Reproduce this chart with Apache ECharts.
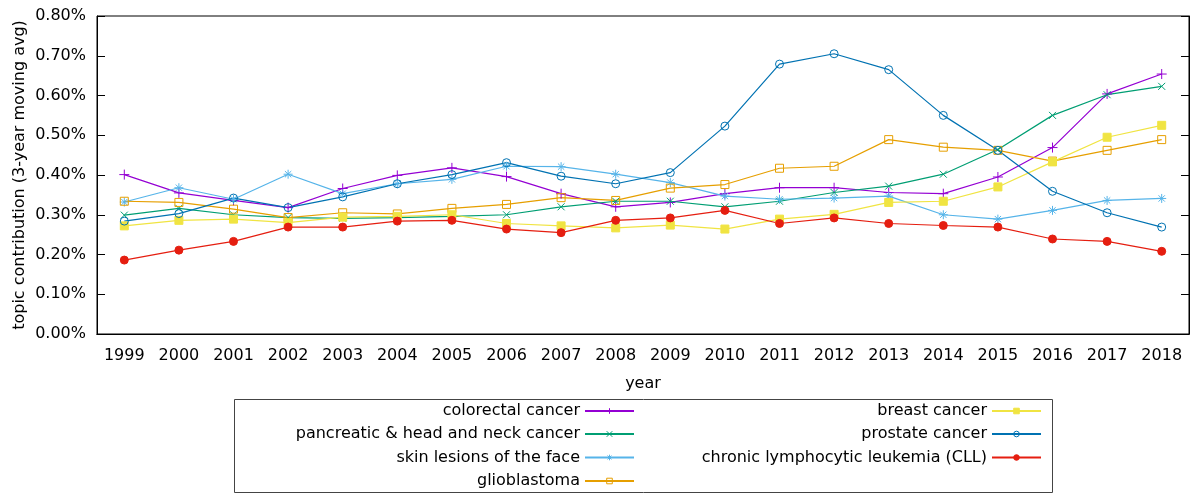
<!DOCTYPE html>
<html>
<head>
<meta charset="utf-8">
<script src="https://cdn.jsdelivr.net/npm/echarts@6/dist/echarts.min.js"></script>
<style>
  html, body { margin: 0; padding: 0; background: #fff; }
  #chart { width: 1193px; height: 493px; }
</style>
</head>
<body>
<div id="chart"></div>
<script>
const years = ["1999", "2000", "2001", "2002", "2003", "2004", "2005", "2006", "2007", "2008",
  "2009", "2010", "2011", "2012", "2013", "2014", "2015", "2016", "2017", "2018"];
const yTicks = [0, 0.1, 0.2, 0.3, 0.4, 0.5, 0.6, 0.7, 0.8];

// values in percent
const colorectal = [0.401, 0.355, 0.336, 0.318, 0.366, 0.399, 0.418, 0.396, 0.353, 0.320,
  0.331, 0.353, 0.368, 0.368, 0.356, 0.353, 0.395, 0.469, 0.604, 0.654];
const pancreatic = [0.299, 0.316, 0.300, 0.293, 0.291, 0.293, 0.296, 0.300, 0.320, 0.334,
  0.334, 0.320, 0.334, 0.356, 0.372, 0.402, 0.464, 0.550, 0.602, 0.623];
const skinLesions = [0.332, 0.368, 0.339, 0.402, 0.353, 0.378, 0.389, 0.422, 0.421, 0.402,
  0.381, 0.347, 0.339, 0.342, 0.347, 0.300, 0.289, 0.311, 0.336, 0.341];
const glioblastoma = [0.334, 0.331, 0.314, 0.293, 0.305, 0.302, 0.316, 0.326, 0.343, 0.336,
  0.367, 0.376, 0.417, 0.422, 0.489, 0.470, 0.462, 0.435, 0.462, 0.489];
const breast = [0.272, 0.286, 0.289, 0.280, 0.294, 0.296, 0.300, 0.278, 0.272, 0.267,
  0.274, 0.264, 0.289, 0.301, 0.331, 0.334, 0.370, 0.433, 0.495, 0.525];
const prostate = [0.284, 0.303, 0.342, 0.318, 0.345, 0.378, 0.401, 0.431, 0.397, 0.378,
  0.406, 0.523, 0.679, 0.705, 0.665, 0.550, 0.462, 0.359, 0.305, 0.269];
const cll = [0.186, 0.211, 0.233, 0.269, 0.269, 0.284, 0.286, 0.264, 0.255, 0.286,
  0.292, 0.311, 0.278, 0.292, 0.278, 0.273, 0.269, 0.239, 0.233, 0.208];

const FONT = "DejaVu Sans";
const PLUS = "path://M5,0L5,10M0,5L10,5";
const CROSS = "path://M0,0L10,10M10,0L0,10";
const STAR = "path://M5,0L5,10M0,5L10,5M1.5,1.5L8.5,8.5M8.5,1.5L1.5,8.5";
const NOFILL = "rgba(0,0,0,0)";

const defs = [
  { name: "colorectal cancer", data: colorectal, color: "#9400d3", symbol: PLUS, size: 10 },
  { name: "pancreatic & head and neck cancer", data: pancreatic, color: "#009e73", symbol: CROSS, size: 7 },
  { name: "skin lesions of the face", data: skinLesions, color: "#56b4e9", symbol: STAR, size: 9 },
  { name: "glioblastoma", data: glioblastoma, color: "#e69f00", symbol: "rect", size: 8, hollow: true },
  { name: "breast cancer", data: breast, color: "#f0e442", symbol: "rect", size: 8 },
  { name: "prostate cancer", data: prostate, color: "#0072b2", symbol: "circle", size: 8, hollow: true },
  { name: "chronic lymphocytic leukemia (CLL)", data: cll, color: "#e51e10", symbol: "circle", size: 8 }
];

const series = defs.map((d) => ({
  name: d.name,
  type: "line",
  data: d.data,
  symbol: d.symbol,
  symbolSize: d.size,
  showAllSymbol: true,
  animation: false,
  lineStyle: { color: d.color, width: 1.2 },
  itemStyle: { color: d.hollow ? NOFILL : d.color, borderColor: d.color, borderWidth: 1 }
}));

// legend: two columns, text right-aligned before the sample
const legendPos = [
  { right: 558, row: 0 }, { right: 558, row: 1 }, { right: 558, row: 2 }, { right: 558, row: 3 },
  { right: 151, row: 0 }, { right: 151, row: 1 }, { right: 151, row: 2 }
];
const rowCenters = [411, 434, 457.5, 481];
const legends = defs.map((d, i) => ({
  data: [{ name: d.name, itemStyle: { borderColor: d.color, borderWidth: 1 } }],
  right: legendPos[i].right,
  top: rowCenters[legendPos[i].row] - 8,
  align: "right",
  orient: "horizontal",
  padding: 0,
  itemWidth: 49,
  itemHeight: 7,
  selectedMode: false,
  textStyle: { fontFamily: FONT, fontSize: 16, color: "#000", lineHeight: 16 }
}));

const axisText = { fontFamily: FONT, fontSize: 16, color: "#000" };

const chart = echarts.init(document.getElementById("chart"));
chart.setOption({
  animation: false,
  backgroundColor: "#fff",
  grid: { left: 97, right: 4, top: 16, bottom: 159, show: true, borderColor: "#000", borderWidth: 1 },
  legend: legends,
  graphic: [{
    type: "rect",
    shape: { x: 234.5, y: 399.5, width: 818, height: 93 },
    style: { fill: "none", stroke: "#444", lineWidth: 1 },
    z: -1
  }],
  xAxis: [
    {
      type: "category",
      data: years,
      boundaryGap: true,
      name: "year",
      nameLocation: "middle",
      nameGap: 42,
      nameMoveOverlap: false,
      nameTextStyle: axisText,
      axisLine: { lineStyle: { color: "#000" } },
      axisTick: { inside: true, length: 8, alignWithLabel: true, lineStyle: { color: "#000" } },
      axisLabel: Object.assign({ margin: 14 }, axisText),
      splitLine: { show: false }
    },
    {
      type: "category",
      data: years,
      position: "top",
      boundaryGap: true,
      axisLine: { lineStyle: { color: "#000" } },
      axisTick: { inside: true, length: 8, alignWithLabel: true, lineStyle: { color: "#000" } },
      axisLabel: { show: false },
      splitLine: { show: false }
    }
  ],
  yAxis: [
    {
      type: "value",
      min: yTicks[0],
      max: yTicks[yTicks.length - 1],
      interval: 0.1,
      name: "topic contribution (3-year moving avg)",
      nameLocation: "middle",
      nameGap: 69,
      nameMoveOverlap: false,
      nameTextStyle: axisText,
      axisLine: { show: true, lineStyle: { color: "#000" } },
      axisTick: { show: true, inside: true, length: 8, lineStyle: { color: "#000" } },
      axisLabel: Object.assign({ margin: 11, formatter: (v) => v.toFixed(2) + "%" }, axisText),
      splitLine: { show: false }
    },
    {
      type: "value",
      position: "right",
      min: yTicks[0],
      max: yTicks[yTicks.length - 1],
      interval: 0.1,
      axisLine: { show: true, lineStyle: { color: "#000" } },
      axisTick: { show: true, inside: true, length: 8, lineStyle: { color: "#000" } },
      axisLabel: { show: false },
      splitLine: { show: false }
    }
  ],
  series: series
});
</script>
</body>
</html>
